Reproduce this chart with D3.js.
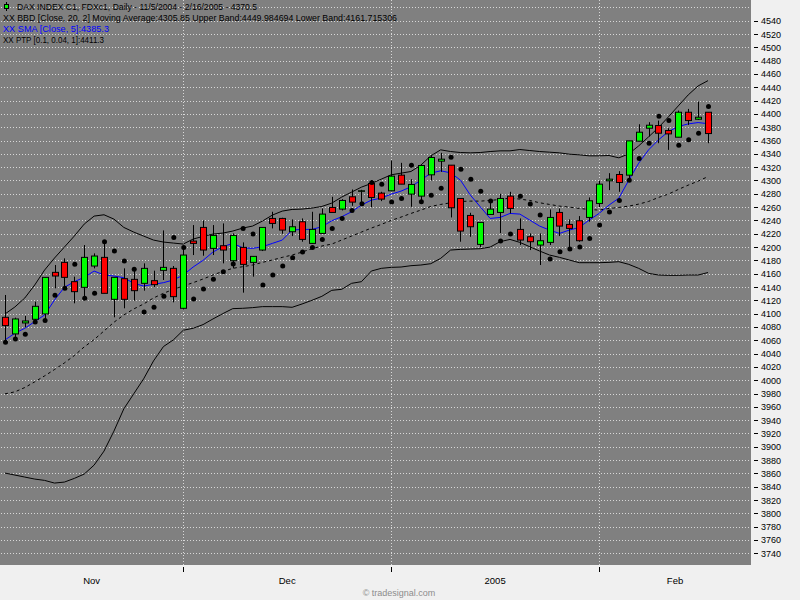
<!DOCTYPE html>
<html>
<head>
<meta charset="utf-8">
<script src="https://cdn.jsdelivr.net/npm/d3@7"></script>
<style>
  body { margin: 0; background: #f0f0f0; }
  svg { display: block; }
  text { font-family: "Liberation Sans", Arial, sans-serif; }
</style>
</head>
<body>
<script>
// ---- data (DAX daily, 11/5/2004 - 2/16/2005) ----
const opens = [4094.5, 4069.5, 4086, 4091.5, 4099.5, 4162, 4177, 4148, 4139.5, 4171.5,
  4184.5, 4121.5, 4152.5, 4151.5, 4145.5, 4149.5, 4165, 4168, 4108, 4209,
  4229.5, 4198, 4202, 4179.5, 4199.5, 4177, 4195.5, 4243, 4243, 4223,
  4238, 4205.5, 4220.5, 4259.5, 4257, 4275.5, 4284.5, 4295.5, 4281, 4284.5,
  4308, 4279.5, 4276.5, 4308.5, 4329, 4323, 4273, 4247.5, 4204, 4249,
  4252, 4276.5, 4226.5, 4215.5, 4203, 4207, 4252, 4234, 4239.5, 4244.5,
  4265.5, 4299.5, 4309, 4308, 4359, 4378.5, 4382.5, 4375, 4365, 4402.5,
  4392, 4402.5];
const highs = [4128, 4094, 4096.5, 4118, 4155, 4173, 4183, 4155.5, 4203, 4190.5,
  4210.5, 4154.5, 4168, 4165.5, 4175.5, 4164.5, 4225, 4171.5, 4200, 4233,
  4240, 4233, 4235.5, 4220.5, 4207, 4186, 4230, 4253, 4244, 4241.5,
  4243, 4253, 4258, 4275.5, 4272, 4286.5, 4286, 4300.5, 4283, 4330,
  4326.5, 4302, 4323, 4338, 4341.5, 4323, 4273, 4251.5, 4237, 4270,
  4280, 4283, 4243, 4220.5, 4220.5, 4256.5, 4258, 4241.5, 4246.5, 4274.5,
  4300, 4311, 4314, 4359.5, 4384.5, 4387.5, 4390, 4378.5, 4405, 4407.5,
  4418.5, 4402.5];
const lows = [4060, 4064, 4079.5, 4088, 4092, 4138, 4136.5, 4115.5, 4124.5, 4168,
  4130.5, 4094.5, 4108, 4119.5, 4134.5, 4139.5, 4150.5, 4117, 4106, 4188,
  4187, 4188, 4175.5, 4168, 4131.5, 4155.5, 4194, 4228, 4220, 4216.5,
  4208, 4205, 4220, 4252, 4255, 4262, 4266, 4260, 4269, 4284,
  4294.5, 4260.5, 4268, 4300, 4313, 4244.5, 4208, 4215.5, 4200, 4249,
  4221, 4250.5, 4203, 4195.5, 4173, 4203, 4216.5, 4198, 4208, 4238,
  4260, 4285.5, 4283, 4302, 4359, 4366, 4356, 4346, 4365, 4383.5,
  4391, 4356];
const closes = [4082, 4092, 4089, 4111, 4154.5, 4156.5, 4154.5, 4133, 4184.5, 4186.5,
  4130.5, 4154.5, 4121.5, 4134.5, 4168, 4143.5, 4169.5, 4125.5, 4188, 4205.5,
  4195.5, 4217.5, 4195.5, 4217.5, 4174, 4186, 4229.5, 4235.5, 4225.5, 4230.5,
  4211.5, 4226.5, 4249.5, 4252, 4270, 4267.5, 4284.5, 4274.5, 4272, 4306.5,
  4294.5, 4294, 4322.5, 4334.5, 4332, 4259, 4224, 4230.5, 4237, 4257,
  4273, 4258, 4210.5, 4208, 4209.5, 4244.5, 4231.5, 4228, 4209.5, 4269.5,
  4294.5, 4302, 4297, 4359.5, 4372.5, 4383, 4371, 4370, 4402.5, 4390,
  4395, 4370.5];

// PTP dots
const ptp = [4057, 4062, 4069, 4087.5, 4089.5, 4127.5, 4138, 4174, 4123, 4130.5,
  4208, 4194, 4179, 4166.5, 4102.5, 4109.5, 4126, 4214.5, 4199.5, 4122,
  4137, 4151.5, 4163, 4174.5, 4228, 4219.5, 4143, 4158, 4171.5, 4184,
  4192.5, 4199.5, 4211.5, 4228, 4243, 4255, 4265, 4297, 4294.5, 4267.5,
  4273, 4323, 4268, 4278, 4288.5, 4335, 4317, 4302, 4284, 4269,
  4209, 4219.5, 4276.5, 4264.5, 4248, 4182, 4193, 4197, 4200, 4213,
  4233, 4252.5, 4270, 4300.5, 4333, 4356, 4396.5, 4390, 4353, 4361,
  4371, 4411.3];

// SMA 5 (blue)
const sma = [4060.5, 4070.5, 4078, 4088, 4098, 4120.5, 4139.5, 4148, 4154.5, 4164,
  4158, 4156.5, 4154, 4145.5, 4141.5, 4144, 4146.5, 4150.5, 4158, 4170,
  4180, 4192.5, 4200.5, 4205.5, 4199, 4198, 4200.5, 4205.5, 4210.5, 4225.5,
  4226.5, 4226.5, 4230.5, 4239.5, 4245.5, 4253, 4263, 4270.5, 4273.5, 4279.5,
  4284, 4290.5, 4300.5, 4311, 4314.5, 4311.5, 4300.5, 4278, 4260.5, 4243,
  4244.5, 4250.5, 4249.5, 4240.5, 4231.5, 4225.5, 4220.5, 4225.5, 4229.5, 4240.5,
  4250.5, 4263, 4273.5, 4300.5, 4326, 4346, 4361, 4373.5, 4381, 4385,
  4387, 4385.3];

// Bollinger bands
const upperBand = [4099.5, 4110, 4123.5, 4143, 4165.5, 4183.5, 4200, 4216.5, 4234.5, 4246.5,
  4248.5, 4242, 4229.5, 4222.5, 4216.5, 4210.5, 4207.5, 4206, 4204.5, 4212,
  4216, 4219.5, 4221, 4224, 4228.5, 4231.5, 4239, 4248, 4254, 4256.5,
  4257, 4258.5, 4261, 4266, 4275, 4282.5, 4290, 4295.5, 4302, 4308.5,
  4311, 4313.5, 4323, 4337, 4346, 4343.5, 4342, 4341.5, 4342, 4343.5,
  4344.5, 4344.5, 4346.5, 4345, 4343.5, 4342.5, 4341.5, 4339.5, 4338.5, 4337,
  4337, 4337.5, 4334, 4340, 4352, 4365.5, 4379.5, 4395.5, 4412, 4428.5,
  4442, 4449.98];
const middleBand = [3979.5, 3982.5, 3989, 3997.5, 4006.5, 4016, 4026, 4037, 4050, 4061,
  4074, 4087, 4098, 4107, 4114.5, 4123.5, 4130.5, 4136.5, 4141.5, 4146.5,
  4152, 4158, 4163.5, 4168, 4170.5, 4173, 4177, 4180.5, 4184.5, 4188,
  4192.5, 4197.5, 4201.5, 4204.5, 4210.5, 4216.5, 4222.5, 4228.5, 4234, 4240,
  4245, 4250.5, 4255.5, 4261, 4264, 4266.5, 4268.5, 4269, 4269, 4270,
  4271.5, 4273.5, 4272, 4270, 4266.5, 4264, 4261.5, 4260, 4258, 4256.5,
  4255.5, 4258, 4259.5, 4261.5, 4264.5, 4268.5, 4274.5, 4279.5, 4286.5, 4293,
  4299, 4305.85];
const lowerBand = [3860.5, 3857.5, 3854.5, 3851.5, 3849.5, 3845.5, 3847, 3852.5, 3859, 3872.5,
  3893.5, 3923.5, 3957, 3979.5, 4002, 4029, 4050.5, 4060.5, 4075, 4078,
  4083.5, 4092, 4100, 4107.5, 4108, 4109, 4110.5, 4110.5, 4110.5, 4109.5,
  4114.5, 4120, 4126, 4135, 4136.5, 4145.5, 4148, 4164, 4168, 4169.5,
  4170, 4172, 4173, 4175, 4183, 4195.5, 4196.5, 4197, 4197.5, 4200,
  4208, 4211.5, 4207, 4200.5, 4194, 4188, 4184.5, 4180.5, 4176.5, 4176.5,
  4176.5, 4177, 4178, 4174, 4168, 4160.5, 4158, 4157.5, 4157.5, 4158,
  4158, 4161.72];

// month labels and the bar index where each new month starts
const monthLabels = ["Nov", "Dec", "2005", "Feb"];
const monthStarts = [18, 39, 60];

const legendLines = [
  "DAX INDEX C1, FDXc1, Daily - 11/5/2004 - 2/16/2005 - 4370.5",
  "XX BBD [Close, 20, 2] Moving Average:4305.85 Upper Band:4449.984694 Lower Band:4161.715306",
  "XX SMA [Close, 5]:4385.3",
  "XX PTP [0.1, 0.04, 1]:4411.3"
];

// ---- layout ----
const svgWidth = 800, svgHeight = 600;
const plot = {left: 0, top: 0, right: 751, bottom: 565};

const svg = d3.select("body").append("svg")
  .attr("width", svgWidth)
  .attr("height", svgHeight);

svg.append("rect")
  .attr("width", svgWidth).attr("height", svgHeight)
  .attr("fill", "#f0f0f0");

// plot background
svg.append("rect")
  .attr("x", plot.left).attr("y", plot.top)
  .attr("width", plot.right - plot.left)
  .attr("height", plot.bottom - plot.top)
  .attr("fill", "#808080");

// scales
const x = d3.scaleLinear().domain([0, opens.length - 1]).range([5, 708]);
const y = d3.scaleLinear().domain([3740, 4540]).range([553.3, 20.7]);

const yTicks = d3.range(3740, 4541, 20);

// horizontal grid (one extra line above the top label)
svg.append("g").selectAll("line")
  .data(yTicks.concat([4560]))
  .enter().append("line")
  .attr("x1", plot.left + 1).attr("x2", plot.right)
  .attr("y1", d => Math.round(y(d)) + 0.5)
  .attr("y2", d => Math.round(y(d)) + 0.5)
  .attr("stroke", "#d8d8d8")
  .attr("stroke-dasharray", "1,2");

// vertical grid at month starts
svg.append("g").selectAll("line")
  .data(monthStarts)
  .enter().append("line")
  .attr("x1", d => Math.round(x(d)) + 0.5).attr("x2", d => Math.round(x(d)) + 0.5)
  .attr("y1", plot.top).attr("y2", plot.bottom)
  .attr("stroke", "#d8d8d8")
  .attr("stroke-dasharray", "1,2");

// right axis
const yAxis = svg.append("g").attr("transform", `translate(${plot.right},0)`);
yAxis.selectAll("line")
  .data(yTicks)
  .enter().append("line")
  .attr("x1", 3).attr("x2", 7)
  .attr("y1", d => Math.round(y(d)) + 0.5)
  .attr("y2", d => Math.round(y(d)) + 0.5)
  .attr("stroke", "#000");
yAxis.selectAll("text")
  .data(yTicks)
  .enter().append("text")
  .attr("x", 10)
  .attr("y", d => y(d) + 3.5)
  .attr("font-size", 9)
  .attr("fill", "#000")
  .text(d => d);

// bottom axis: month tick marks and centred labels
const bounds = [plot.left].concat(monthStarts.map(d => x(d)), [plot.right]);
svg.append("g").selectAll("line")
  .data(monthStarts)
  .enter().append("line")
  .attr("x1", d => Math.round(x(d)) + 0.5).attr("x2", d => Math.round(x(d)) + 0.5)
  .attr("y1", plot.bottom + 2).attr("y2", plot.bottom + 7)
  .attr("stroke", "#000");
svg.append("g").selectAll("text")
  .data(monthLabels)
  .enter().append("text")
  .attr("x", (d, i) => (bounds[i] + bounds[i + 1]) / 2)
  .attr("y", 583.5)
  .attr("text-anchor", "middle")
  .attr("font-size", 9.5)
  .attr("fill", "#000")
  .text(d => d);

// ---- indicator lines ----
const idx = d3.range(opens.length);
const lineOf = arr => d3.line().x(i => x(i)).y(i => y(arr[i]))(idx);

svg.append("path").attr("d", lineOf(lowerBand))
  .attr("fill", "none").attr("stroke", "#000").attr("stroke-width", 1);
svg.append("path").attr("d", lineOf(upperBand))
  .attr("fill", "none").attr("stroke", "#000").attr("stroke-width", 1);
svg.append("path").attr("d", lineOf(middleBand))
  .attr("fill", "none").attr("stroke", "#000").attr("stroke-width", 1)
  .attr("stroke-dasharray", "3,3");
svg.append("path").attr("d", lineOf(sma))
  .attr("fill", "none").attr("stroke", "#0000ff").attr("stroke-width", 1);

// ---- candles ----
const candles = svg.append("g").selectAll("g")
  .data(idx)
  .enter().append("g");

candles.append("line")
  .attr("x1", i => Math.round(x(i)) + 0.5).attr("x2", i => Math.round(x(i)) + 0.5)
  .attr("y1", i => y(highs[i])).attr("y2", i => y(lows[i]))
  .attr("stroke", "#000");

candles.append("rect")
  .attr("x", i => Math.round(x(i)) - 2.5)
  .attr("width", 6)
  .attr("y", i => y(Math.max(opens[i], closes[i])))
  .attr("height", i => Math.max(0.5, Math.abs(y(opens[i]) - y(closes[i]))))
  .attr("fill", i => closes[i] >= opens[i] ? "#00ff00" : "#ff0000")
  .attr("stroke", "#000")
  .attr("stroke-width", 1);

// PTP dots
svg.append("g").selectAll("circle")
  .data(idx)
  .enter().append("circle")
  .attr("cx", i => x(i) + 0.5)
  .attr("cy", i => y(ptp[i]))
  .attr("r", 2.5)
  .attr("fill", "#000");

// ---- legend text at top left ----
const legend = svg.append("g");
legend.append("line")
  .attr("x1", 6.5).attr("x2", 6.5).attr("y1", 2).attr("y2", 11)
  .attr("stroke", "#000");
legend.append("rect")
  .attr("x", 4.5).attr("y", 4.5).attr("width", 4).attr("height", 4)
  .attr("fill", "#00ff00").attr("stroke", "#000");

const legendX = [17, 3, 3, 3];
const legendW = [240, 394, 106, 101];
const legendColor = ["#000", "#000", "#0000ff", "#000"];
legend.selectAll("text")
  .data(legendLines)
  .enter().append("text")
  .attr("x", (d, i) => legendX[i])
  .attr("y", (d, i) => 9.5 + i * 11)
  .attr("font-size", 9)
  .attr("textLength", (d, i) => legendW[i])
  .attr("lengthAdjust", "spacingAndGlyphs")
  .attr("fill", (d, i) => legendColor[i])
  .text(d => d);

// footer
svg.append("text")
  .attr("x", 399).attr("y", 596)
  .attr("text-anchor", "middle")
  .attr("font-size", 9)
  .attr("fill", "#8c8c8c")
  .text("\u00a9 tradesignal.com");
</script>
</body>
</html>
